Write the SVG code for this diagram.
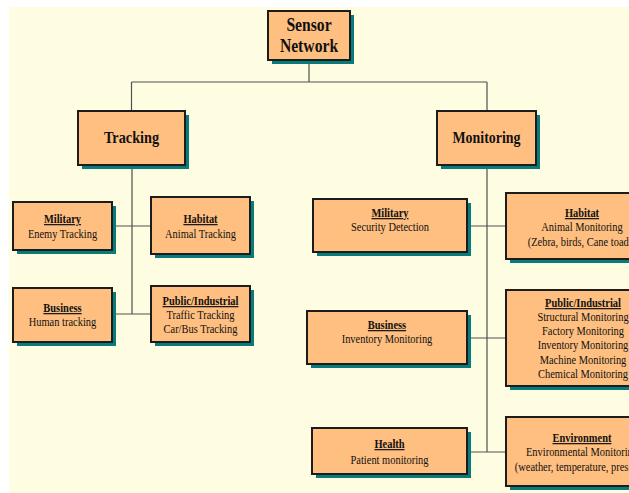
<svg xmlns="http://www.w3.org/2000/svg" width="629" height="493" viewBox="0 0 629 493">
<style>
.bg{fill:#FFFDE1}
.sh{fill:#0A7B7B}
.bx{fill:#FFBF80;stroke:#1C1C1C;stroke-width:2}
.cn{fill:none;stroke:#505050;stroke-width:1.2}
text{font-family:"Liberation Serif","Times New Roman",serif;fill:#111;text-anchor:middle}
.big{font-size:18px;font-weight:bold}
.mid{font-size:17px;font-weight:bold}
.hd{font-size:12px;font-weight:bold;text-decoration:underline}
.tx{font-size:12px}
</style>
<rect class="bg" x="9" y="7" width="620" height="486"/>
<g id="connectors">
<path class="cn" d="M309 60V82M131.5 82H487M131.5 82V111M487 82V111"/>
<path class="cn" d="M132 165V314M112 226H151M112 314H151"/>
<path class="cn" d="M487 165V452M467 226H506M467 338H506M467 452H506"/>
</g>
<g id="sensor-network">
<rect class="sh" x="272" y="15" width="82" height="49"/>
<rect class="bx" x="268" y="11" width="82" height="49"/>
<text class="big" transform="translate(309,31) scale(0.87,1)">Sensor</text>
<text class="big" transform="translate(309,52) scale(0.87,1)">Network</text>
</g>
<g id="tracking">
<rect class="sh" x="82" y="115" width="107" height="54"/>
<rect class="bx" x="78" y="111" width="107" height="54"/>
<text class="mid" transform="translate(131.5,143) scale(0.84,1)">Tracking</text>
</g>
<g id="monitoring">
<rect class="sh" x="441" y="115" width="99" height="54"/>
<rect class="bx" x="437" y="111" width="99" height="54"/>
<text class="mid" transform="translate(486.5,143) scale(0.82,1)">Monitoring</text>
</g>
<g id="t-military">
<rect class="sh" x="17" y="206" width="99" height="48"/>
<rect class="bx" x="13" y="202" width="99" height="48"/>
<text class="hd" transform="translate(62.5,223) scale(0.87,1)">Military</text>
<text class="tx" transform="translate(62.5,238) scale(0.87,1)">Enemy Tracking</text>
</g>
<g id="t-habitat">
<rect class="sh" x="155" y="201" width="99" height="57"/>
<rect class="bx" x="151" y="197" width="99" height="57"/>
<text class="hd" transform="translate(200.5,223) scale(0.87,1)">Habitat</text>
<text class="tx" transform="translate(200.5,238) scale(0.87,1)">Animal Tracking</text>
</g>
<g id="t-business">
<rect class="sh" x="17" y="292" width="99" height="54"/>
<rect class="bx" x="13" y="288" width="99" height="54"/>
<text class="hd" transform="translate(62.5,312) scale(0.87,1)">Business</text>
<text class="tx" transform="translate(62.5,326) scale(0.87,1)">Human tracking</text>
</g>
<g id="t-public">
<rect class="sh" x="155" y="290" width="99" height="56"/>
<rect class="bx" x="151" y="286" width="99" height="56"/>
<text class="hd" transform="translate(200.5,305) scale(0.87,1)">Public/Industrial</text>
<text class="tx" transform="translate(200.5,319) scale(0.87,1)">Traffic Tracking</text>
<text class="tx" transform="translate(200.5,333) scale(0.87,1)">Car/Bus Tracking</text>
</g>
<g id="m-military">
<rect class="sh" x="317" y="203" width="154" height="53"/>
<rect class="bx" x="313" y="199" width="154" height="53"/>
<text class="hd" transform="translate(390,217) scale(0.87,1)">Military</text>
<text class="tx" transform="translate(390,231) scale(0.87,1)">Security Detection</text>
</g>
<g id="m-habitat">
<rect class="sh" x="510" y="197" width="152" height="66"/>
<rect class="bx" x="506" y="193" width="152" height="66"/>
<text class="hd" transform="translate(582,217) scale(0.87,1)">Habitat</text>
<text class="tx" transform="translate(582,231) scale(0.87,1)">Animal Monitoring</text>
<text class="tx" transform="translate(582,246) scale(0.87,1)">(Zebra, birds, Cane toads)</text>
</g>
<g id="m-business">
<rect class="sh" x="311" y="315" width="160" height="53"/>
<rect class="bx" x="307" y="311" width="160" height="53"/>
<text class="hd" transform="translate(387,329) scale(0.87,1)">Business</text>
<text class="tx" transform="translate(387,343) scale(0.87,1)">Inventory Monitoring</text>
</g>
<g id="m-public">
<rect class="sh" x="510" y="294" width="152" height="96"/>
<rect class="bx" x="506" y="290" width="152" height="96"/>
<text class="hd" transform="translate(583,307) scale(0.87,1)">Public/Industrial</text>
<text class="tx" transform="translate(583,321) scale(0.87,1)">Structural Monitoring</text>
<text class="tx" transform="translate(583,335) scale(0.87,1)">Factory Monitoring</text>
<text class="tx" transform="translate(583,349) scale(0.87,1)">Inventory Monitoring</text>
<text class="tx" transform="translate(583,364) scale(0.87,1)">Machine Monitoring</text>
<text class="tx" transform="translate(583,378) scale(0.87,1)">Chemical Monitoring</text>
</g>
<g id="m-health">
<rect class="sh" x="316" y="432" width="155" height="46"/>
<rect class="bx" x="312" y="428" width="155" height="46"/>
<text class="hd" transform="translate(389.5,448) scale(0.87,1)">Health</text>
<text class="tx" transform="translate(389.5,464) scale(0.87,1)">Patient monitoring</text>
</g>
<g id="m-environment">
<rect class="sh" x="510" y="421" width="152" height="69"/>
<rect class="bx" x="506" y="417" width="152" height="69"/>
<text class="hd" transform="translate(582,442) scale(0.87,1)">Environment</text>
<text class="tx" transform="translate(582,456) scale(0.87,1)">Environmental Monitoring</text>
<text class="tx" transform="translate(582,471) scale(0.87,1)">(weather, temperature, pressure)</text>
</g>
</svg>
